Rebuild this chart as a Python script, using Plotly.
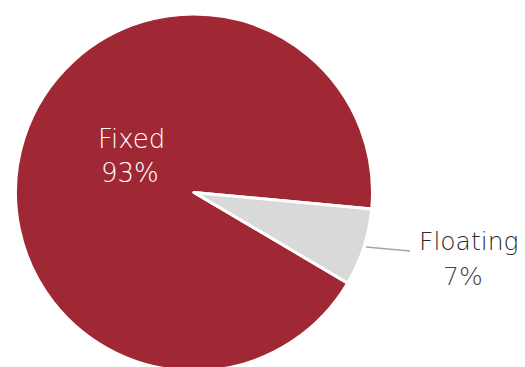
import plotly.graph_objects as go

labels = ["Fixed", "Floating"]
values = [93, 7]
colors = ["#A02834", "#D9D9D9"]

total = sum(values)
pcts = [round(v / total * 100) for v in values]

W, H = 525, 367
MT, MB = 6, 4
FONT = "DejaVu Sans"


def px(x):
    return x / W


def py(y):
    return (H - MB - y) / (H - MT - MB)


fig = go.Figure(go.Pie(
    labels=labels,
    values=values,
    sort=False,
    direction="clockwise",
    rotation=120.5,
    marker=dict(colors=colors, line=dict(color="white", width=3)),
    textinfo="none",
    hoverinfo="label+percent",
    domain=dict(x=[0, 372 / W], y=[0, 1]),
))

# Slice labels (built from the data arrays)
label_specs = [
    # (label pos, pct pos, colours, size)
    ((123, 131), (121.5, 165), "white", "white", 26),
    ((461, 234), (455, 268), "#2b2b2b", "#444444", 25),
]
for i, ((lx, ly), (qx, qy), c1, c2, fs) in enumerate(label_specs):
    fig.add_annotation(
        x=px(lx), y=py(ly), xref="paper", yref="paper",
        text=labels[i], showarrow=False, xanchor="center", yanchor="middle",
        font=dict(family=FONT, size=fs, color=c1, weight=200),
    )
    fig.add_annotation(
        x=px(qx), y=py(qy), xref="paper", yref="paper",
        text=f"{pcts[i]}%", showarrow=False, xanchor="center", yanchor="middle",
        font=dict(family=FONT, size=fs, color=c2, weight=200),
    )

# Leader line for the outside label
fig.add_shape(
    type="line", xref="paper", yref="paper",
    x0=px(358), y0=py(239), x1=px(402), y1=py(243),
    line=dict(color="#A6A6A6", width=1.5),
)

fig.update_layout(
    width=W, height=H,
    margin=dict(l=0, r=0, t=MT, b=MB),
    paper_bgcolor="white", plot_bgcolor="white",
    showlegend=False,
)

fig.write_html("out.html")
